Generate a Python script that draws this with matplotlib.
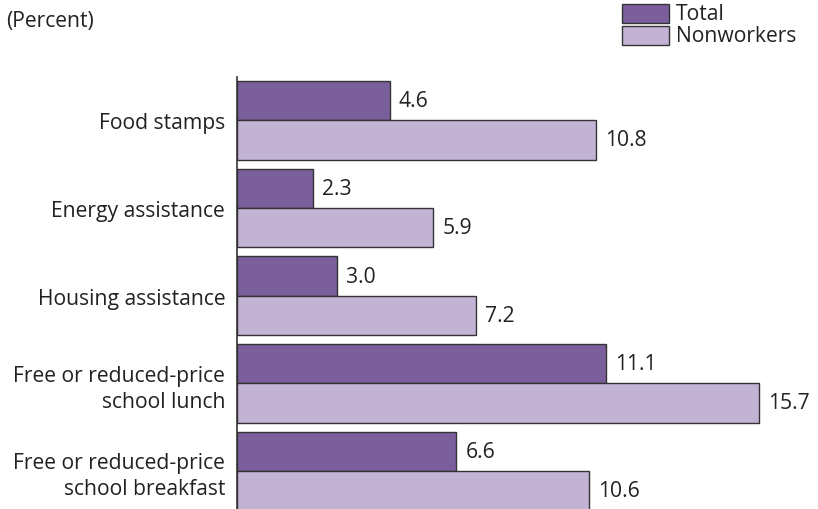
import matplotlib.pyplot as plt
import numpy as np
from matplotlib.patches import Rectangle

plt.rcParams['font.family'] = ['Open Sans', 'DejaVu Sans']

categories = ['Food stamps', 'Energy assistance', 'Housing assistance',
              'Free or reduced-price\nschool lunch',
              'Free or reduced-price\nschool breakfast']
total = [4.6, 2.3, 3.0, 11.1, 6.6]
nonworkers = [10.8, 5.9, 7.2, 15.7, 10.6]
series_names = ['Total', 'Nonworkers']

dark = '#7b5f9c'
light = '#c2b3d5'
edge = '#333333'
txt = '#222222'
fs = 15.2

W, H = 818, 510
fig = plt.figure(figsize=(W / 100, H / 100), dpi=100)
# axes: left edge at x=237px, top at y=77px, runs off the bottom
ax = fig.add_axes([237 / W, -0.001, 565.25 / W, 433 / H])

gap = 2.23  # spacing between groups, in bar heights
pos = np.arange(len(categories)) * gap
ax.barh(pos + 0.5, total, height=1, color=dark, edgecolor=edge, linewidth=1)
ax.barh(pos + 1.5, nonworkers, height=1, color=light, edgecolor=edge, linewidth=1)

for y, v in zip(pos + 0.5, total):
    ax.text(v + 0.27, y, f'{v:.1f}', va='center', ha='left', fontsize=fs, color=txt)
for y, v in zip(pos + 1.5, nonworkers):
    ax.text(v + 0.27, y, f'{v:.1f}', va='center', ha='left', fontsize=fs, color=txt)

ax.set_xlim(0, 17)
ax.set_ylim(10.9, -0.115)
ax.set_yticks(pos + 1)
ax.set_yticklabels(categories, fontsize=fs, color=txt, ha='right', linespacing=1.3)
ax.tick_params(axis='y', length=0, pad=8.5)
ax.set_xticks([])
for s in ['top', 'right', 'bottom']:
    ax.spines[s].set_visible(False)
ax.spines['left'].set_color(edge)
ax.spines['left'].set_linewidth(1.2)

fig.text(6 / W, 1 - 21 / H, '(Percent)', fontsize=fs, color=txt, va='center', ha='left')

# legend drawn by hand so the swatches sit like the original
for i, (name, col) in enumerate(zip(series_names, [dark, light])):
    top = 5 + i * 22
    fig.add_artist(Rectangle((622 / W, 1 - (top + 19) / H), 47 / W, 19 / H,
                             transform=fig.transFigure, facecolor=col,
                             edgecolor=edge, linewidth=1))
    fig.text(676 / W, 1 - (top + 10) / H, name, fontsize=fs, color=txt,
             va='center', ha='left')

fig.savefig('out.png', dpi=100)
